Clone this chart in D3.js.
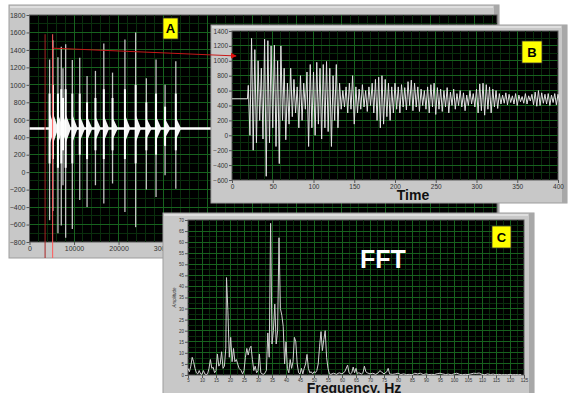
<!DOCTYPE html>
<html>
<head>
<meta charset="utf-8">
<script src="https://cdn.jsdelivr.net/npm/d3@7"></script>
<style>
body { margin: 0; background: #fff; }
.tick text { font-family: "Liberation Sans", Arial, sans-serif; fill: #333; }
</style>
</head>
<body>
<div id="chart"></div>
<script>
// ---- DATA ----
// A: train of impacts, raw counts vs sample number
const spikeTime = [4510, 5260, 6390, 7140, 7520, 8120, 9620, 11280, 12930, 14810, 16690, 18650, 21430, 23840, 26240, 28420, 30450, 32860];
const spikeMax  = [1290, 1510, 1315, 1435, 1190, 1465, 1285, 1310, 1100, 1160, 1475, 1140, 1520, 1600, 1075, 1290, 1000, 1270];
const spikeMin  = [-550, -445, -700, -610, -150, -750, -650, -320, -400, -150, -360, -130, -455, -630, -200, -285, -35, -190];
const spikeHi   = [900, 1000, 900, 950, 850, 950, 900, 900, 800, 850, 950, 850, 950, 1000, 800, 900, 750, 900];
const spikeLo   = [100, 150, 50, 100, 250, 50, 100, 200, 150, 250, 150, 250, 150, 100, 250, 200, 300, 250];
const spikeTail = [180, 180, 170, 170, 150, 170, 160, 150, 140, 140, 150, 130, 160, 160, 120, 140, 110, 130];
const tailLen = 1200;
const baseA = 500;
const cursorTime = [3500, 5200];
const cursorTop = 1580;

// B: one impact zoomed, values every 2 time units from t=20
const bFlat = [[0, 490], [19, 490]];
const bValues = [
  670, 0, 1300, -200, 1150, -100, 1000, 200, 900, -50,
  1290, -550, 1270, -100, 1200, 100, 1210, -150, 1000, -380,
  1200, 200, 900, -60, 700, 150, 900, 250, 750, 300,
  650, 100, 800, 200, 700, 350, 850, -150, 950, 100,
  850, 0, 980, 150, 900, -50, 950, 100, 990, 50,
  900, -150, 800, 200, 950, 100, 700, 350, 600, 380,
  650, 300, 700, 350, 800, 150, 650, 300, 620, 350,
  680, 380, 600, 320, 650, 400, 700, 300, 750, 200,
  780, 100, 800, 150, 750, 250, 700, 200, 650, 300,
  700, 350, 650, 300, 680, 380, 640, 340, 720, 400,
  740, 330, 700, 380, 650, 320, 620, 400, 600, 350,
  650, 300, 680, 380, 700, 280, 640, 350, 620, 320,
  600, 380, 640, 300, 580, 400, 620, 350, 560, 400,
  600, 380, 570, 330, 540, 400, 600, 420, 560, 380,
  620, 300, 690, 330, 700, 270, 680, 350, 650, 300,
  620, 380, 600, 360, 560, 420, 540, 430, 570, 410,
  550, 440, 530, 420, 560, 400, 540, 450, 520, 430,
  560, 420, 530, 460, 550, 410, 580, 390, 600, 400,
  570, 430, 550, 420, 560, 400, 540, 440, 560, 410,
  550, 450
];
const bStart = 20, bStep = 2;
const bArrow = [5, 1065];

// C: FFT amplitude spectrum
const fftFreq = [
  5, 5.5, 6, 6.5, 7, 7.5, 8, 8.5, 9, 9.5, 10, 10.5, 11, 11.5, 12, 12.5, 13, 13.5, 14, 14.5,
  15, 15.5, 16, 16.5, 17, 17.5, 18, 18.5, 18.75, 19.25, 19.75, 20.25, 20.75, 21.25, 21.75, 22.25, 22.75, 23.25, 24, 24.5,
  25, 25.5, 26, 26.5, 27, 27.5, 28, 28.5, 29, 29.5, 30, 30.5, 31, 31.5, 32, 32.5, 33, 33.5, 34, 34.5,
  35, 35.5, 36, 36.5, 37, 37.5, 38, 38.5, 39, 39.5, 40, 40.5, 41, 41.5, 42, 42.5, 43, 43.5, 44, 44.5,
  45, 45.5, 46, 46.5, 47, 47.5, 48, 48.5, 49, 49.5, 50, 50.5, 51, 51.5, 52, 52.5, 53, 53.5, 54, 54.5,
  55, 55.5, 56, 57, 58, 59, 60, 61, 62, 62.5, 63, 63.5, 64, 64.5, 65, 65.5, 66, 67, 67.5, 68,
  68.5, 69, 70, 71, 72, 73, 73.5, 74, 75, 76, 76.5, 77, 78, 79, 80, 81, 82, 83, 84, 85,
  86, 87, 88, 89, 90, 91, 92, 93, 94, 95, 96, 97, 98, 99, 100, 101, 102, 103, 104, 105,
  106, 107, 108, 109, 110, 111, 112, 113, 114, 115, 116, 117, 118, 119, 120, 121, 122, 123, 124
];
const fftAmp = [
  3, 1.5, 4, 8, 6, 3, 1, 0.5, 2, 0.5, 0.3, 2, 0.5, 0.2, 0.5, 3, 7, 3, 3.5, 1,
  2, 9.5, 4, 5, 10.5, 3, 4, 12, 44, 29, 8, 17, 6, 12, 6, 7, 5, 3, 2, 0.5,
  2, 8, 12, 9, 12, 13, 7, 2, 4, 1, 2, 9.5, 1, 0.5, 0.3, 1, 2, 19, 8, 68.5,
  14, 20, 32, 14, 20, 62, 30, 27, 22, 5, 15, 3, 1, 7, 3, 6, 17, 15, 5, 1,
  0.5, 3, 0.5, 3, 5, 9.3, 3, 1, 1.5, 0.5, 1.5, 1, 2, 5, 13, 19.6, 11, 16, 20, 8,
  3, 0.5, 0.3, 0.8, 0.3, 1, 0.5, 1.5, 4.5, 1, 0.5, 1, 3.6, 1, 3, 0.5, 1, 0.5, 1, 4,
  1.5, 1, 0.5, 0.8, 0.3, 1, 2, 1.5, 0.5, 1.5, 3, 0.5, 0.3, 0.5, 0.8, 0.2, 0.5, 0.2, 0.3, 0.1,
  0.8, 0.5, 0.8, 0.2, 0.5, 0.2, 0.3, 0.2, 0.6, 0.8, 0.5, 0.2, 0.4, 0.1, 0.5, 0.8, 0.3, 0.1, 0.3, 0.2,
  0.5, 0.8, 0.7, 0.9, 0.3, 0.1, 0.5, 0.2, 0.4, 0.1, 0.3, 0.1, 0.2, 0.1, 0.3, 0.1, 0.2, 0.1, 0.2
];

// ---- DRAWING ----
const W = 569, H = 393;
const svg = d3.select("#chart").append("svg")
    .attr("width", W).attr("height", H)
    .style("background", "#fff");

const font = '"Liberation Sans", Arial, sans-serif';

// draws a LabVIEW style graph: grey frame, black plot, green grid, axes
function panel(box, xs, ys, xMajor, xMinor, yMajor, yMinor, fs) {
    const g = svg.append("g");
    const [x0, x1] = xs.range();
    const [y1, y0] = ys.range();
    g.append("rect").attr("x", box[0]).attr("y", box[1])
        .attr("width", box[2] - box[0]).attr("height", box[3] - box[1])
        .attr("fill", "#c8c8c8").attr("stroke", "#9d9d9d");
    g.append("rect").attr("x", box[2] - 5).attr("y", box[1])
        .attr("width", 5).attr("height", box[3] - box[1]).attr("fill", "#a8a8a8");
    g.append("rect").attr("x", box[0] + 1).attr("y", box[1] + 1)
        .attr("width", box[2] - box[0] - 7).attr("height", 2).attr("fill", "#dedede");
    g.append("rect").attr("x", x0).attr("y", y0)
        .attr("width", x1 - x0).attr("height", y1 - y0)
        .attr("fill", "#000").attr("stroke", "#5a5a5a");

    const grid = g.append("g").attr("shape-rendering", "crispEdges");
    function lines(vals, color) {
        grid.selectAll(null).data(vals.filter(v => xs(v) > x0 && xs(v) < x1)).enter().append("line")
            .attr("x1", d => xs(d)).attr("x2", d => xs(d)).attr("y1", y0).attr("y2", y1)
            .attr("stroke", color);
    }
    function hlines(vals, color) {
        grid.selectAll(null).data(vals.filter(v => ys(v) > y0 && ys(v) < y1)).enter().append("line")
            .attr("x1", x0).attr("x2", x1).attr("y1", d => ys(d)).attr("y2", d => ys(d))
            .attr("stroke", color);
    }
    lines(xMinor, "#0a2e0d"); hlines(yMinor, "#0a2e0d");
    lines(xMajor, "#17621e"); hlines(yMajor, "#17621e");

    const ax = g.append("g").attr("transform", "translate(" + x0 + ",0)")
        .call(d3.axisLeft(ys).tickValues(yMajor).tickFormat(d3.format("d"))
            .tickSize(3).tickSizeOuter(0).tickPadding(1));
    const bx = g.append("g").attr("transform", "translate(0," + y1 + ")")
        .call(d3.axisBottom(xs).tickValues(xMajor).tickFormat(d3.format("d"))
            .tickSize(3).tickSizeOuter(0).tickPadding(1));
    [ax, bx].forEach(a => {
        a.select(".domain").remove();
        a.selectAll(".tick line").attr("stroke", "#555");
        a.selectAll(".tick text").style("font-size", fs + "px").style("font-family", font);
    });
    return g;
}

// ---------- PANEL A ----------
const xA = d3.scaleLinear().domain([0, 105000]).range([29.5, 497]);
const yA = d3.scaleLinear().domain([-800, 1800]).range([242, 15]);
const gA = panel([9, 5, 499, 258], xA, yA,
    d3.range(0, 100001, 10000), d3.range(0, 105001, 2000),
    d3.range(-800, 1801, 200), d3.range(-800, 1801, 100), 7);

const plotA = gA.append("g");
plotA.append("line")
    .attr("x1", xA(0)).attr("x2", xA(105000)).attr("y1", yA(baseA)).attr("y2", yA(baseA))
    .attr("stroke", "#fff").attr("stroke-width", 2.5);
plotA.selectAll(".tail").data(spikeTime).enter().append("path")
    .attr("d", (d, i) => "M" + xA(d) + "," + yA(baseA + spikeTail[i]) +
        "L" + xA(d + tailLen) + "," + yA(baseA) +
        "L" + xA(d) + "," + yA(baseA - spikeTail[i]) + "Z")
    .attr("fill", "#f4f4f4");
plotA.selectAll(".spk").data(spikeTime).enter().append("line")
    .attr("x1", d => xA(d)).attr("x2", d => xA(d))
    .attr("y1", (d, i) => yA(spikeMax[i])).attr("y2", (d, i) => yA(spikeMin[i]))
    .attr("stroke", "#c4c4c4").attr("stroke-width", 1.3);
plotA.selectAll(".body").data(spikeTime).enter().append("line")
    .attr("x1", d => xA(d)).attr("x2", d => xA(d))
    .attr("y1", (d, i) => yA(spikeHi[i])).attr("y2", (d, i) => yA(spikeLo[i]))
    .attr("stroke", "#fff").attr("stroke-width", 2);

// cursors
gA.selectAll(".cur").data(cursorTime).enter().append("line")
    .attr("x1", d => xA(d)).attr("x2", d => xA(d))
    .attr("y1", yA(cursorTop)).attr("y2", 258)
    .attr("stroke", (d, i) => i === 0 ? "#a82424" : "#ff5a5a").attr("stroke-width", 1);

// ---------- PANEL B ----------
const xB = d3.scaleLinear().domain([0, 400]).range([232, 558]);
const yB = d3.scaleLinear().domain([-600, 1400]).range([180, 31]);
const gB = panel([211, 25, 567, 203], xB, yB,
    d3.range(0, 401, 50), d3.range(0, 401, 10),
    d3.range(-600, 1401, 200), d3.range(-600, 1401, 100), 6.5);

const bData = bFlat.concat(bValues.map((v, i) => [bStart + i * bStep, v]));
gB.append("path").datum(bData)
    .attr("d", d3.line().x(d => xB(d[0])).y(d => yB(d[1])))
    .attr("fill", "none").attr("stroke", "#e2e2e2").attr("stroke-width", 1);
gB.append("text").attr("x", 413).attr("y", 200).attr("text-anchor", "middle")
    .style("font-family", font).style("font-weight", "bold").style("font-size", "14px")
    .attr("fill", "#111").text("Time");

// ---------- PANEL C ----------
const xC = d3.scaleLinear().domain([5, 125]).range([188, 524]);
const yC = d3.scaleLinear().domain([0, 70]).range([375, 220]);
const gC = panel([163, 213, 534, 400], xC, yC,
    d3.range(5, 126, 5), d3.range(5, 125.1, 2.5),
    d3.range(0, 71, 5), d3.range(0, 70.1, 2.5), 4.5);

gC.append("path").datum(fftFreq.map((f, i) => [f, fftAmp[i]]))
    .attr("d", d3.line().x(d => xC(d[0])).y(d => yC(d[1])))
    .attr("fill", "none").attr("stroke", "#d0d0d0").attr("stroke-width", 1);
gC.append("text").attr("transform", "translate(176," + yC(35) + ") rotate(-90)")
    .attr("text-anchor", "middle")
    .style("font-family", font).style("font-style", "italic").style("font-size", "4.5px")
    .attr("fill", "#333").text("Amplitude");
gC.append("text").attr("x", 383).attr("y", 268).attr("text-anchor", "middle")
    .style("font-family", font).style("font-weight", "bold").style("font-size", "25px")
    .attr("fill", "#fff").text("FFT");
gC.append("text").attr("x", 354).attr("y", 393).attr("text-anchor", "middle")
    .style("font-family", font).style("font-weight", "bold").style("font-size", "14px")
    .attr("fill", "#111").text("Frequency, Hz");

// ---------- red link A -> B ----------
svg.append("defs").append("marker").attr("id", "arr")
    .attr("viewBox", "0 0 10 10").attr("refX", 9).attr("refY", 5)
    .attr("markerWidth", 6).attr("markerHeight", 6).attr("orient", "auto")
    .append("path").attr("d", "M0,0L10,5L0,10Z").attr("fill", "#e01010");
svg.append("line")
    .attr("x1", xA(cursorTime[1])).attr("y1", yA(1420))
    .attr("x2", xB(bArrow[0])).attr("y2", yB(bArrow[1]))
    .attr("stroke", "#c81818").attr("stroke-width", 1)
    .attr("marker-end", "url(#arr)");

// ---------- yellow tags ----------
const tags = [["A", 163, 18, 15, 21], ["B", 522, 41, 20, 22], ["C", 492, 226, 19, 22]];
tags.forEach(t => {
    svg.append("rect").attr("x", t[1]).attr("y", t[2]).attr("width", t[3]).attr("height", t[4])
        .attr("fill", "#ffff00").attr("stroke", "#333").attr("stroke-width", 0.8);
    svg.append("text").attr("x", t[1] + t[3] / 2).attr("y", t[2] + t[4] / 2 + 4.5)
        .attr("text-anchor", "middle")
        .style("font-family", font).style("font-weight", "bold").style("font-size", "13px")
        .attr("fill", "#000").text(t[0]);
});
</script>
</body>
</html>
